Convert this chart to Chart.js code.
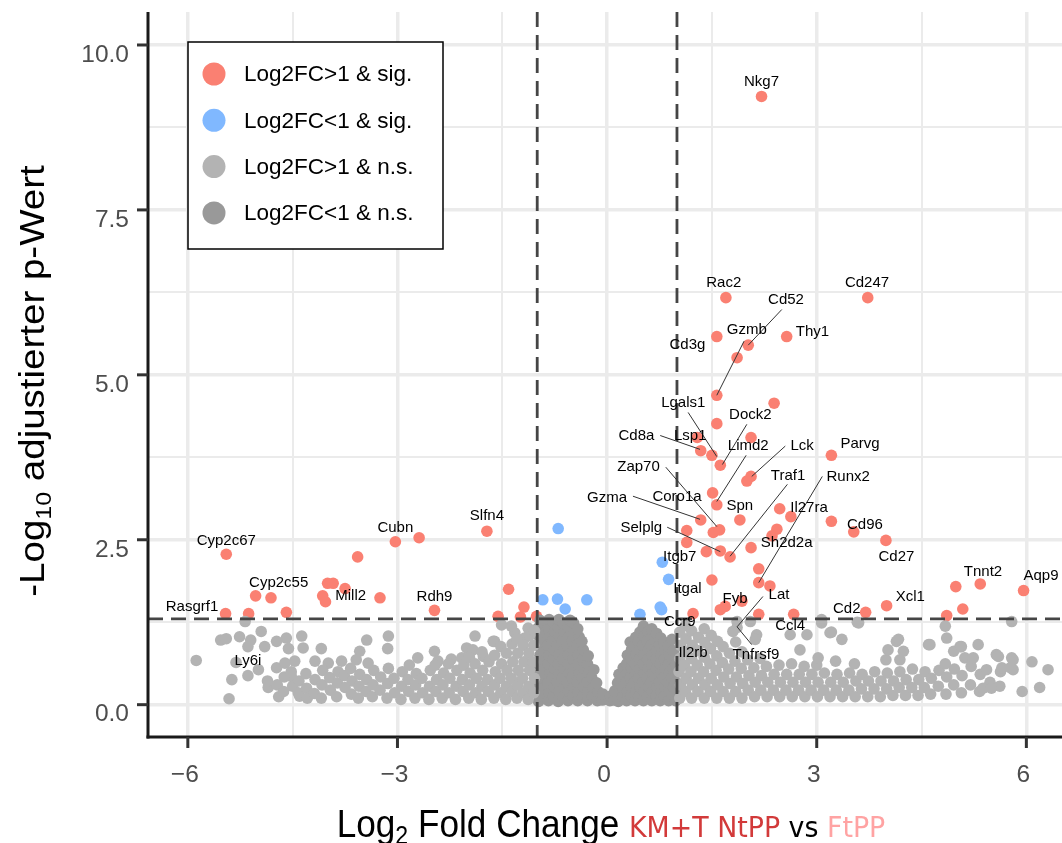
<!DOCTYPE html>
<html>
<head>
<meta charset="utf-8">
<script src="https://cdn.jsdelivr.net/npm/chart.js@4"></script>
<style>
  html, body { margin: 0; padding: 0; background: #fff; }
  canvas { display: block; }
</style>
</head>
<body>
<canvas id="volcano" width="1062" height="843"></canvas>
<script>
// ---- data: [log2FC, -log10 padj] ----
const sigUp = [
  [2.21,9.22],[1.70,6.17],[3.73,6.17],[1.57,5.58],[2.57,5.58],[2.02,5.45],[1.86,5.26],[1.57,4.69],
  [2.39,4.57],[1.57,4.26],[2.06,4.05],[1.29,4.05],[1.34,3.85],[1.50,3.78],[1.62,3.63],[3.21,3.78],
  [2.06,3.46],[2.00,3.39],[1.51,3.21],[1.57,3.03],[1.90,2.80],[2.47,2.97],[2.63,2.85],[3.21,2.78],
  [3.53,2.62],[3.99,2.49],[1.34,2.80],[1.52,2.61],[1.61,2.65],[1.14,2.64],[1.14,2.46],[1.42,2.32],
  [1.62,2.33],[1.76,2.24],[2.06,2.38],[2.43,2.66],[2.36,2.56],[2.17,2.06],[2.17,1.85],[2.33,1.80],
  [1.50,1.89],[1.62,1.44],[1.69,1.49],[1.93,1.57],[2.17,1.37],[2.67,1.37],[1.23,1.38],[3.70,1.40],
  [4.00,1.50],[4.86,1.35],[5.09,1.45],[4.99,1.79],[5.34,1.83],[5.96,1.73],
  [-5.45,2.28],[-3.03,2.47],[-2.69,2.53],[-3.57,2.24],[-4.00,1.84],[-3.92,1.84],[-3.75,1.76],
  [-4.07,1.65],[-4.03,1.56],[-3.25,1.62],[-5.03,1.65],[-4.81,1.62],[-5.46,1.38],[-5.13,1.38],
  [-4.59,1.40],[-2.47,1.43],[-1.72,2.63],[-1.41,1.75],[-1.19,1.48],[-1.56,1.34],[-1.24,1.33],[-1.01,1.34]
];
const sigDown = [
  [-0.70,2.67],[-0.92,1.59],[-0.71,1.60],[-0.60,1.45],[-0.29,1.59],
  [0.47,1.37],[0.76,1.48],[0.78,1.44],[0.79,2.16],[0.88,1.90]
];
const nsOuter = [
  // left, scattered
  [-5.88,0.67],[-5.53,0.98],[-5.45,1.00],[-5.26,1.03],[-5.18,1.26],[-5.10,0.98],[-4.95,1.11],[-5.14,0.88],
  [-5.37,0.38],[-5.41,0.09],[-5.31,0.64],[-5.14,0.44],[-4.99,0.53],[-4.90,0.88],[-4.73,0.96],[-4.59,1.01],
  [-4.56,0.85],[-4.37,1.04],[-4.35,0.86],[-4.09,0.85],[-4.47,0.66],[-4.85,0.26],[-4.86,0.36],[-4.40,0.13],
  [-3.54,0.81],[-3.44,0.98],[-3.13,1.04],[-3.14,0.85],[-2.71,0.71],[-2.47,0.81],[-2.01,0.86],[-1.89,1.04],
  [-1.61,0.96],[-1.32,1.09],[-1.18,1.01],[-1.51,1.21],[-1.37,1.19],[-1.13,1.16],[-4.73,0.56],[-4.61,0.63],
  [-4.52,0.43],[-4.18,0.66],[-3.99,0.63],[-3.80,0.66],[-3.59,0.68],[-3.42,0.63],[-2.42,0.66],[-2.23,0.69],
  [-2.08,0.71],[-1.92,0.83],[-1.77,0.73],[-1.63,0.96],[-1.20,0.99],
  // left, dense band
  [-4.72,0.30],[-4.70,0.12],[-4.62,0.42],[-4.63,0.20],[-4.50,0.28],[-4.52,0.50],[-4.41,0.36],[-4.42,0.18],
  [-4.30,0.25],[-4.31,0.47],[-4.29,0.10],[-4.18,0.38],[-4.19,0.17],[-4.08,0.30],[-4.07,0.52],[-4.09,0.10],
  [-3.96,0.22],[-3.97,0.41],[-3.86,0.33],[-3.87,0.12],[-3.85,0.50],[-3.75,0.26],[-3.76,0.44],[-3.66,0.16],
  [-3.65,0.36],[-3.67,0.55],[-3.55,0.28],[-3.56,0.10],[-3.54,0.46],[-3.45,0.20],[-3.44,0.38],[-3.35,0.30],
  [-3.36,0.12],[-3.34,0.52],[-3.25,0.22],[-3.24,0.42],[-3.14,0.32],[-3.15,0.10],[-3.13,0.55],[-3.04,0.18],
  [-3.05,0.40],[-2.94,0.28],[-2.95,0.08],[-2.93,0.50],[-2.84,0.20],[-2.85,0.38],[-2.83,0.60],[-2.74,0.30],
  [-2.75,0.10],[-2.73,0.47],[-2.64,0.18],[-2.65,0.40],[-2.54,0.28],[-2.55,0.08],[-2.53,0.52],[-2.45,0.20],
  [-2.44,0.38],[-2.46,0.60],[-2.35,0.30],[-2.36,0.10],[-2.34,0.48],[-2.26,0.18],[-2.25,0.40],[-2.27,0.62],
  [-2.16,0.28],[-2.17,0.08],[-2.15,0.52],[-2.06,0.20],[-2.07,0.38],[-2.05,0.60],[-1.97,0.30],[-1.98,0.10],
  [-1.96,0.48],[-1.97,0.72],[-1.88,0.18],[-1.87,0.40],[-1.89,0.62],[-1.79,0.28],[-1.80,0.08],[-1.78,0.52],
  [-1.79,0.80],[-1.70,0.20],[-1.71,0.38],[-1.69,0.65],[-1.61,0.30],[-1.62,0.10],[-1.60,0.50],[-1.61,0.75],
  [-1.52,0.18],[-1.53,0.40],[-1.51,0.62],[-1.52,0.88],[-1.44,0.28],[-1.45,0.08],[-1.43,0.52],[-1.44,0.78],
  [-1.36,0.20],[-1.37,0.40],[-1.35,0.65],[-1.36,0.92],[-1.28,0.30],[-1.29,0.10],[-1.27,0.52],[-1.28,0.78],
  [-1.29,1.00],[-1.20,0.18],[-1.21,0.40],[-1.19,0.65],[-1.20,0.90],[-1.12,0.28],[-1.13,0.08],[-1.11,0.52],
  [-1.12,0.78],[-1.11,1.05],[-1.05,0.18],[-1.04,0.40],[-1.06,0.65],[-1.05,0.90],[-1.04,1.12],
  // right, dense band
  [1.04,0.10],[1.05,0.30],[1.03,0.50],[1.04,0.70],[1.05,0.90],[1.04,1.10],
  [1.12,0.20],[1.13,0.40],[1.11,0.60],[1.12,0.80],[1.13,1.00],[1.12,1.20],
  [1.21,0.10],[1.22,0.30],[1.20,0.50],[1.21,0.70],[1.22,0.90],[1.21,1.12],
  [1.30,0.20],[1.31,0.40],[1.29,0.60],[1.30,0.82],[1.31,1.02],
  [1.39,0.10],[1.40,0.30],[1.38,0.50],[1.39,0.72],[1.40,0.94],[1.39,1.15],
  [1.48,0.20],[1.49,0.40],[1.47,0.62],[1.48,0.85],[1.49,1.05],
  [1.57,0.10],[1.58,0.30],[1.56,0.52],[1.57,0.74],[1.58,0.96],
  [1.66,0.20],[1.67,0.42],[1.65,0.64],[1.66,0.88],
  [1.75,0.10],[1.76,0.32],[1.74,0.54],[1.75,0.78],
  [1.84,0.20],[1.85,0.42],[1.83,0.66],[1.84,0.95],
  [1.93,0.10],[1.94,0.32],[1.92,0.55],[1.93,0.80],
  [2.02,0.22],[2.03,0.44],[2.01,0.68],[2.11,0.12],[2.12,0.34],[2.10,0.56],
  [2.20,0.22],[2.21,0.44],[2.19,0.70],[2.29,0.12],[2.30,0.34],[2.28,0.58],
  [2.38,0.22],[2.39,0.46],[2.47,0.12],[2.48,0.34],[2.46,0.60],[2.56,0.22],[2.57,0.46],
  [2.65,0.12],[2.66,0.34],[2.64,0.62],[2.74,0.22],[2.75,0.46],[2.83,0.12],[2.84,0.34],[2.82,0.58],
  [2.92,0.22],[2.93,0.46],[3.01,0.12],[3.02,0.34],[3.00,0.60],[3.10,0.22],[3.11,0.48],
  [3.19,0.12],[3.20,0.34],[3.28,0.22],[3.29,0.46],[3.27,0.66],[3.37,0.12],[3.38,0.34],
  [3.46,0.22],[3.47,0.48],[3.55,0.12],[3.56,0.36],[3.54,0.62],[3.64,0.24],[3.65,0.46],
  [3.73,0.12],[3.74,0.36],[3.82,0.24],[3.83,0.50],[3.91,0.12],[3.92,0.36],
  [4.00,0.24],[4.01,0.48],[3.99,0.68],[4.09,0.14],[4.10,0.36],[4.18,0.26],[4.19,0.50],
  [4.27,0.14],[4.28,0.38],[4.36,0.26],[4.37,0.54],[4.45,0.14],[4.46,0.38],[4.54,0.26],[4.55,0.50],
  [4.63,0.16],[4.64,0.40],[4.74,0.28],[4.75,0.52],[4.85,0.16],[4.86,0.42],[4.84,0.62],
  [4.96,0.30],[4.97,0.54],[5.07,0.18],[5.08,0.44],[5.20,0.30],[5.21,0.58],[5.33,0.20],[5.34,0.46],
  [5.48,0.34],[5.62,0.28],[5.63,0.50],
  // right, scattered
  [1.86,1.17],[1.86,1.26],[2.05,1.26],[1.80,1.11],[2.14,1.06],[2.12,0.99],[2.62,1.06],[2.86,1.06],
  [3.07,1.24],[3.21,1.10],[3.36,0.99],[2.76,0.83],[3.02,0.71],[3.60,1.24],[4.02,0.83],[4.14,0.96],
  [4.24,0.81],[4.60,0.91],[4.84,1.19],[4.86,1.01],[4.96,0.81],[5.05,0.88],[5.12,0.71],[5.24,0.71],
  [5.57,0.76],[5.79,0.71],[5.81,0.53],[5.65,0.56],[5.43,0.53],[5.38,0.25],[5.50,0.25],[5.79,1.26],
  [3.58,1.25],[3.07,1.29],[3.19,1.09],[4.17,0.99],[4.62,0.91],[5.31,0.91],[5.07,0.88],[5.60,0.73],
  [5.81,0.68],[5.77,0.56],[4.19,0.68],[6.08,0.65],[6.19,0.26],[6.31,0.53],[5.94,0.20]
];
const nsInner = [
  [-0.98,0.05],[-0.97,0.19],[-0.99,0.33],[-0.97,0.47],[-0.98,0.61],[-0.96,0.75],[-0.98,0.89],[-0.97,1.03],[-0.99,1.16],[-0.96,1.28],
  [-0.91,0.12],[-0.90,0.26],[-0.92,0.40],[-0.89,0.54],[-0.91,0.68],[-0.90,0.82],[-0.92,0.96],[-0.89,1.10],[-0.91,1.24],
  [-0.84,0.06],[-0.83,0.19],[-0.85,0.33],[-0.82,0.48],[-0.84,0.62],[-0.83,0.75],[-0.85,0.90],[-0.82,1.04],[-0.84,1.17],[-0.83,1.29],
  [-0.77,0.13],[-0.76,0.27],[-0.78,0.41],[-0.75,0.55],[-0.77,0.69],[-0.76,0.83],[-0.78,0.97],[-0.75,1.11],[-0.77,1.25],
  [-0.70,0.05],[-0.69,0.20],[-0.71,0.34],[-0.68,0.48],[-0.70,0.62],[-0.69,0.76],[-0.71,0.90],[-0.68,1.04],[-0.70,1.18],[-0.69,1.29],
  [-0.63,0.12],[-0.62,0.27],[-0.64,0.41],[-0.61,0.55],[-0.63,0.69],[-0.62,0.83],[-0.64,0.97],[-0.61,1.11],[-0.63,1.24],
  [-0.56,0.06],[-0.55,0.20],[-0.57,0.34],[-0.54,0.48],[-0.56,0.62],[-0.55,0.76],[-0.57,0.90],[-0.54,1.04],[-0.56,1.18],[-0.53,1.28],
  [-0.49,0.13],[-0.48,0.27],[-0.50,0.41],[-0.47,0.55],[-0.49,0.69],[-0.48,0.83],[-0.50,0.97],[-0.47,1.11],[-0.48,1.24],
  [-0.42,0.06],[-0.41,0.20],[-0.43,0.34],[-0.40,0.48],[-0.42,0.62],[-0.41,0.76],[-0.43,0.90],[-0.40,1.03],[-0.42,1.15],
  [-0.35,0.13],[-0.34,0.27],[-0.36,0.41],[-0.33,0.55],[-0.35,0.69],[-0.34,0.83],[-0.36,0.96],
  [-0.28,0.06],[-0.27,0.20],[-0.29,0.34],[-0.26,0.48],[-0.28,0.62],[-0.27,0.74],
  [-0.21,0.13],[-0.20,0.27],[-0.22,0.41],[-0.19,0.53],
  [-0.14,0.06],[-0.13,0.20],[-0.15,0.33],[-0.07,0.07],[-0.06,0.16],
  [0.04,0.06],[0.05,0.13],[0.10,0.07],[0.11,0.21],
  [0.16,0.05],[0.17,0.19],[0.15,0.33],[0.17,0.46],
  [0.22,0.12],[0.23,0.26],[0.21,0.40],[0.23,0.56],
  [0.28,0.06],[0.29,0.20],[0.27,0.34],[0.29,0.48],[0.28,0.62],[0.29,0.75],
  [0.34,0.13],[0.35,0.27],[0.33,0.41],[0.35,0.55],[0.34,0.69],[0.35,0.84],[0.33,0.95],
  [0.40,0.06],[0.41,0.20],[0.39,0.34],[0.41,0.48],[0.40,0.62],[0.41,0.76],[0.39,0.90],[0.41,1.02],
  [0.46,0.13],[0.47,0.27],[0.45,0.41],[0.47,0.55],[0.46,0.69],[0.47,0.83],[0.45,0.97],[0.47,1.10],
  [0.52,0.06],[0.53,0.20],[0.51,0.34],[0.53,0.48],[0.52,0.62],[0.53,0.76],[0.51,0.90],[0.53,1.04],[0.52,1.19],
  [0.58,0.13],[0.59,0.27],[0.57,0.41],[0.59,0.55],[0.58,0.69],[0.59,0.83],[0.57,0.97],[0.59,1.11],
  [0.64,0.06],[0.65,0.20],[0.63,0.34],[0.65,0.48],[0.64,0.62],[0.65,0.76],[0.63,0.90],[0.65,1.04],[0.64,1.15],
  [0.70,0.13],[0.71,0.27],[0.69,0.41],[0.71,0.55],[0.70,0.69],[0.71,0.83],[0.69,0.97],[0.71,1.08],
  [0.76,0.06],[0.77,0.20],[0.75,0.34],[0.77,0.48],[0.76,0.62],[0.77,0.76],[0.75,0.90],[0.77,1.01],
  [0.82,0.13],[0.83,0.27],[0.81,0.41],[0.83,0.55],[0.82,0.69],[0.83,0.83],[0.81,0.95],
  [0.88,0.06],[0.89,0.20],[0.87,0.34],[0.89,0.48],[0.88,0.62],[0.89,0.76],[0.87,0.89],
  [0.94,0.13],[0.95,0.27],[0.93,0.41],[0.95,0.55],[0.94,0.69],[0.95,0.82],[0.93,0.99],
  [0.98,0.06],[0.99,0.20],[0.98,0.34],[0.99,0.48],[0.98,0.61]
];

// gene labels: [name, x, y] of the text centre (repelled positions)
const geneLabels = [
  ['Nkg7',2.21,9.44],['Rac2',1.67,6.40],['Cd247',3.72,6.40],['Cd52',2.56,6.13],['Gzmb',2.00,5.68],
  ['Cd3g',1.15,5.45],['Thy1',2.94,5.65],['Lgals1',1.09,4.57],['Dock2',2.05,4.40],['Cd8a',0.42,4.08],
  ['Lsp1',1.19,4.08],['Limd2',2.02,3.92],['Lck',2.79,3.93],['Parvg',3.62,3.95],['Zap70',0.45,3.61],
  ['Traf1',2.59,3.47],['Runx2',3.45,3.46],['Coro1a',1.00,3.15],['Gzma',0.00,3.14],['Spn',1.90,3.02],
  ['Il27ra',2.89,2.99],['Cd96',3.69,2.73],['Selplg',0.49,2.68],['Sh2d2a',2.57,2.46],['Cd27',4.14,2.24],
  ['Itgb7',1.04,2.24],['Tnnt2',5.38,2.01],['Aqp9',6.21,1.96],['Itgal',1.15,1.76],['Lat',2.46,1.67],
  ['Xcl1',4.34,1.64],['Fyb',1.83,1.60],['Cd2',3.43,1.45],['Ccr9',1.04,1.26],['Ccl4',2.62,1.20],
  ['Il2rb',1.23,0.78],['Tnfrsf9',2.13,0.76],['Cyp2c67',-5.45,2.49],['Cubn',-3.03,2.68],['Slfn4',-1.72,2.86],
  ['Cyp2c55',-4.70,1.84],['Mill2',-3.67,1.65],['Rasgrf1',-5.94,1.48],['Rdh9',-2.47,1.64],['Ly6i',-5.14,0.66]
];
// segments from label to point: [x1, y1, x2, y2]
const leaderLines = [
  [2.50,5.99,2.02,5.45],[1.96,5.51,1.57,4.69],[1.16,4.43,1.57,3.76],[2.00,4.25,1.65,3.64],
  [0.76,4.08,1.33,3.87],[1.99,3.78,1.57,3.08],[2.55,3.92,2.07,3.46],[0.84,3.60,1.57,2.70],
  [2.58,3.34,1.76,2.25],[3.08,3.46,2.17,1.85],[0.37,3.16,1.33,2.81],[0.86,2.69,1.62,2.32],
  [2.23,1.64,1.86,1.18],[2.07,0.91,1.86,1.18]
];

const xMajor = [-6, -3, 0, 3, 6];
const xMinor = [-4.5, -1.5, 1.5, 4.5];
const yMajor = [0, 2.5, 5, 7.5, 10];
const yMinor = [1.25, 3.75, 6.25, 8.75];
const xTickLabels = ['\u22126', '\u22123', '0', '3', '6'];
const yTickLabels = ['0.0', '2.5', '5.0', '7.5', '10.0'];
const legendLabels = ['Log2FC>1 & sig.', 'Log2FC<1 & sig.', 'Log2FC>1 & n.s.', 'Log2FC<1 & n.s.'];
const fcCut = 1;
const pCut = 1.301;

const colUp = '#fa8072';
const colDown = '#80b8ff';
const colOuter = '#b3b3b3';
const colInner = '#999999';
const sans = '"Liberation Sans", Arial, Helvetica, sans-serif';
const dejavu = '"DejaVu Sans", sans-serif';

const toXY = arr => arr.map(([x, y]) => ({ x, y }));

function seg(ctx, x1, y1, x2, y2) {
  ctx.beginPath();
  ctx.moveTo(x1, y1);
  ctx.lineTo(x2, y2);
  ctx.stroke();
}

// row of differently styled text pieces centred on 0, baseline 0 (caller sets transform)
function richText(ctx, pieces) {
  let total = 0;
  pieces.forEach(p => { ctx.font = p.font; p.w = ctx.measureText(p.t).width; total += p.w; });
  let x = -total / 2;
  ctx.textAlign = 'left';
  ctx.textBaseline = 'alphabetic';
  pieces.forEach(p => {
    ctx.font = p.font;
    ctx.fillStyle = p.color || '#000';
    ctx.fillText(p.t, x, p.dy || 0);
    x += p.w;
  });
}

const ggDecor = {
  id: 'ggDecor',
  afterDatasetsDraw(chart) {
    const { ctx, chartArea: a, scales } = chart;
    const sx = scales.x, sy = scales.y;
    ctx.save();

    // cut-off lines
    ctx.setLineDash([15, 8]);
    ctx.lineWidth = 2.8;
    ctx.strokeStyle = '#454545';
    [-fcCut, fcCut].forEach(v => {
      const px = sx.getPixelForValue(v);
      seg(ctx, px, a.top, px, a.bottom);
    });
    const py = sy.getPixelForValue(pCut);
    seg(ctx, a.left, py, a.right, py);
    ctx.setLineDash([]);

    // leader lines + gene names
    ctx.lineWidth = 1;
    ctx.strokeStyle = '#333333';
    leaderLines.forEach(([x1, y1, x2, y2]) => {
      seg(ctx, sx.getPixelForValue(x1), sy.getPixelForValue(y1), sx.getPixelForValue(x2), sy.getPixelForValue(y2));
    });
    ctx.font = '15px ' + sans;
    ctx.fillStyle = '#000';
    ctx.textAlign = 'center';
    ctx.textBaseline = 'middle';
    geneLabels.forEach(([name, gx, gy]) => {
      ctx.fillText(name, sx.getPixelForValue(gx), sy.getPixelForValue(gy));
    });

    // axis lines and ticks
    ctx.strokeStyle = '#1a1a1a';
    ctx.lineWidth = 3;
    seg(ctx, a.left, a.top, a.left, a.bottom + 1.5);
    seg(ctx, a.left - 1.5, a.bottom, a.right, a.bottom);
    ctx.strokeStyle = '#333333';
    yMajor.forEach(v => { const p = sy.getPixelForValue(v); seg(ctx, a.left - 11, p, a.left, p); });
    xMajor.forEach(v => { const p = sx.getPixelForValue(v); seg(ctx, p, a.bottom, p, a.bottom + 11); });

    // tick labels
    ctx.font = '24.5px ' + sans;
    ctx.fillStyle = '#4d4d4d';
    ctx.textBaseline = 'middle';
    ctx.textAlign = 'right';
    yMajor.forEach((v, i) => ctx.fillText(yTickLabels[i], a.left - 19, sy.getPixelForValue(v) + 10));
    ctx.textAlign = 'center';
    xMajor.forEach((v, i) => ctx.fillText(xTickLabels[i], sx.getPixelForValue(v) - 3, a.bottom + 38));

    // axis titles (glyphs in the picture are slightly narrow, hence the squeeze)
    ctx.save();
    ctx.translate(611, 837);
    ctx.scale(0.925, 1);
    richText(ctx, [
      { t: 'Log', font: '38px ' + sans },
      { t: '2', font: '25px ' + sans, dy: 7 },
      { t: ' Fold Change ', font: '38px ' + sans },
      { t: 'KM+T NtPP', font: '29px ' + dejavu, color: '#d23a3a' },
      { t: ' vs ', font: '29px ' + dejavu },
      { t: 'FtPP', font: '29px ' + dejavu, color: '#ffa3a3' }
    ]);
    ctx.restore();
    ctx.save();
    ctx.translate(44, 381);
    ctx.rotate(-Math.PI / 2);
    ctx.scale(1, 0.89);
    richText(ctx, [
      { t: '-Log', font: '38.5px ' + sans },
      { t: '10', font: '25px ' + sans, dy: 8 },
      { t: ' adjustierter p-Wert', font: '38.5px ' + sans }
    ]);
    ctx.restore();

    // legend
    const lx = 188, ly = 42;
    ctx.fillStyle = '#fff';
    ctx.fillRect(lx, ly, 255, 207);
    ctx.strokeStyle = '#000';
    ctx.lineWidth = 1.5;
    ctx.strokeRect(lx, ly, 255, 207);
    const keyCols = [colUp, colDown, colOuter, colInner];
    ctx.font = '22.5px ' + sans;
    ctx.textAlign = 'left';
    ctx.textBaseline = 'middle';
    legendLabels.forEach((t, i) => {
      const cy = ly + 32 + i * 46.3;
      ctx.fillStyle = keyCols[i];
      ctx.beginPath();
      ctx.arc(lx + 26, cy, 11.5, 0, Math.PI * 2);
      ctx.fill();
      ctx.fillStyle = '#000';
      ctx.fillText(t, lx + 56, cy + 1);
    });
    ctx.restore();
  }
};

const pointStyle = { pointRadius: 5.8, pointHoverRadius: 5.8, pointBorderWidth: 0 };

new Chart(document.getElementById('volcano'), {
  type: 'scatter',
  data: {
    datasets: [
      { label: legendLabels[2], data: toXY(nsOuter), backgroundColor: colOuter, ...pointStyle },
      { label: legendLabels[3], data: toXY(nsInner), backgroundColor: colInner, ...pointStyle },
      { label: legendLabels[1], data: toXY(sigDown), backgroundColor: colDown, ...pointStyle },
      { label: legendLabels[0], data: toXY(sigUp), backgroundColor: colUp, ...pointStyle }
    ]
  },
  options: {
    responsive: false,
    animation: false,
    devicePixelRatio: 1,
    layout: { autoPadding: false, padding: { top: 12, right: 0, left: 0, bottom: 0 } },
    plugins: { legend: { display: false }, tooltip: { enabled: false } },
    scales: {
      x: {
        type: 'linear', min: -6.57, max: 6.51,
        afterBuildTicks: s => { s.ticks = [...xMajor, ...xMinor].sort((p, q) => p - q).map(v => ({ value: v })); },
        afterFit: s => { s.height = 106; },
        ticks: { display: false },
        border: { display: false },
        grid: { color: '#ebebeb', drawTicks: false, lineWidth: c => (xMajor.includes(c.tick.value) ? 3.5 : 2) }
      },
      y: {
        type: 'linear', min: -0.49, max: 10.5,
        afterBuildTicks: s => { s.ticks = [...yMajor, ...yMinor].sort((p, q) => p - q).map(v => ({ value: v })); },
        afterFit: s => { s.width = 148; },
        ticks: { display: false },
        border: { display: false },
        grid: { color: '#ebebeb', drawTicks: false, lineWidth: c => (yMajor.includes(c.tick.value) ? 3.5 : 2) }
      }
    }
  },
  plugins: [ggDecor]
});
</script>
</body>
</html>
